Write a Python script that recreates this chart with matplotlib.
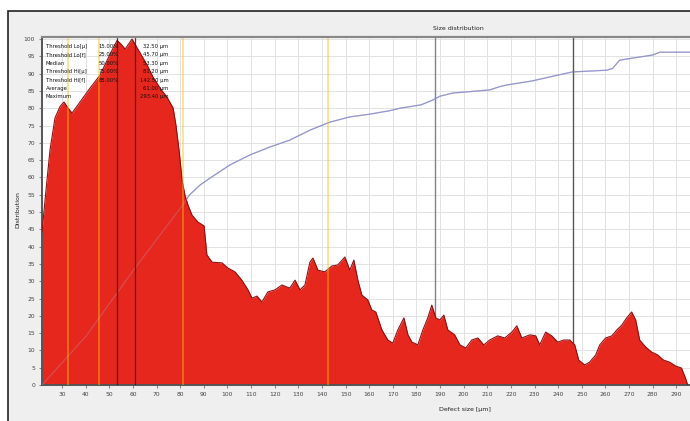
import matplotlib.pyplot as plt
from matplotlib.patches import Rectangle

# size distribution (defect size in um, distribution in %)
size_um = [21.5, 23.2, 24.9, 27.0, 29.2, 30.8, 32.5, 34.2, 37.6, 41.8, 46.1, 49.5,
           51.6, 53.3, 55.0, 56.7, 58.4, 59.6, 61.3, 63.0, 66.0, 68.5, 71.5, 74.4,
           77.0, 78.2, 79.5, 80.8, 82.0, 83.3, 85.0, 87.5, 90.1, 91.3, 93.5, 97.7,
           100.2, 103.2, 106.1, 108.7, 110.4, 112.5, 114.6, 117.1, 120.1, 123.1,
           126.4, 128.6, 130.7, 132.8, 134.9, 136.2, 138.3, 141.2, 144.2, 146.7,
           149.7, 151.8, 153.5, 155.2, 156.9, 159.4, 161.1, 162.8, 165.4, 167.9,
           170.0, 172.1, 174.7, 176.4, 178.1, 180.6, 182.7, 184.8, 186.5, 188.2,
           189.9, 191.6, 193.3, 196.2, 198.4, 200.9, 203.4, 206.0, 208.5, 211.0,
           214.4, 217.4, 220.4, 222.5, 224.6, 228.0, 230.5, 232.2, 234.7, 237.3,
           239.8, 242.3, 244.9, 247.0, 248.7, 251.2, 253.3, 255.9, 257.6, 260.1,
           262.7, 264.8, 266.9, 269.0, 271.1, 272.8, 274.5, 277.0, 279.6, 282.1,
           284.6, 287.2, 289.7, 292.2, 293.9, 294.8]
distribution = [44.2, 56.4, 68.0, 77.2, 80.6, 81.8, 80.1, 78.6, 81.8, 85.8, 89.6, 94.5,
                97.4, 99.6, 98.5, 97.1, 98.8, 100.0, 98.0, 96.0, 92.5, 89.0, 85.8, 83.2,
                80.1, 75.1, 67.9, 59.2, 54.9, 52.0, 49.1, 47.1, 46.0, 37.6, 35.5, 35.3,
                33.8, 32.7, 30.3, 27.5, 25.1, 25.7, 24.0, 26.9, 27.5, 28.9,
                28.0, 30.3, 27.5, 28.9, 35.5, 36.7, 33.2, 32.7, 34.4, 34.7,
                37.0, 33.2, 36.1, 30.3, 26.0, 24.6, 21.7, 21.1, 15.9, 13.0,
                12.1, 15.9, 19.4, 14.5, 12.4, 11.6, 15.9, 19.4, 23.1, 19.4,
                18.8, 20.2, 15.9, 14.5, 11.6, 10.7, 13.0, 13.6, 11.6, 13.0,
                14.2, 13.6, 15.3, 17.1, 13.6, 14.5, 14.2, 11.6, 15.3, 14.2,
                12.4, 13.0, 13.0, 11.6, 7.2, 5.8, 6.6, 8.7, 11.6, 13.6,
                14.2, 15.9, 17.3, 19.4, 21.1, 18.8, 13.0, 11.0, 9.5, 8.7,
                7.2, 6.6, 5.5, 4.9, 2.0, 0.0]

# cumulative curve
cum_um = [21.5, 40, 60, 81, 84, 88.4, 92.6, 101, 109.5, 118, 126.4, 135, 143.4,
          151.8, 160.3, 168.7, 173, 182, 187, 190, 195.4, 211, 215, 218, 229,
          240, 246, 260.5, 263, 266, 280, 283, 295.8]
cum_pct = [0, 14, 33, 52, 55, 57.8, 59.8, 63.6, 66.5, 68.8, 70.8, 73.7, 76,
           77.5, 78.3, 79.3, 80, 81, 82.4, 83.5, 84.4, 85.3, 86.2, 86.7, 87.9,
           89.6, 90.5, 91, 91.5, 93.9, 95.4, 96.2, 96.2]

# statistics table
stat_names = ["Threshold Lo[\u00b5]", "Threshold Lo[f]", "Median", "Threshold Hi[\u00b5]",
              "Threshold Hi[f]", "Average", "Maximum"]
stat_pct = ["15.00%", "25.00%", "50.00%", "75.00%", "85.00%", "", ""]
stat_um = [32.50, 45.70, 53.30, 81.20, 142.50, 61.00, 293.40]

threshold_lines = [32.5, 45.7, 81.2, 142.5]
center_lines = [53.3, 61.0]
marker_lines = [(187.8, "#7c7fa6"), (246.2, "#555555")]

x_ticks = list(range(30, 300, 10))
y_ticks = list(range(0, 105, 5))

fig = plt.figure(figsize=(6.9, 4.21), dpi=100, facecolor="white")
frame = Rectangle((8 / 690, -0.1), 1.0, 1 - 11 / 421 + 0.1,
                  transform=fig.transFigure, facecolor="#efefef",
                  edgecolor="#222222", linewidth=1.2, zorder=-10)
fig.patches.append(frame)

ax = fig.add_axes([42 / 690, 36 / 421, 648 / 690, 348 / 421])
ax.set_zorder(1)
ax.set_facecolor("white")

ax.plot(cum_um, cum_pct, color="#8a8cc8", lw=0.9, zorder=1)
ax.fill_between(size_um, distribution, 0, color="#e6271d", zorder=2, linewidth=0)
ax.plot(size_um, distribution, color="#8e1010", lw=0.8, zorder=3)
ax.plot(cum_um, cum_pct, color="#b0b0d8", lw=0.8, alpha=0.3, zorder=3)

for xv in threshold_lines:
    ax.axvline(xv, color="#f7c010", lw=1.1, alpha=0.55, zorder=4)
for xv in center_lines:
    ax.axvline(xv, color="#3a0a0a", lw=0.9, alpha=0.8, zorder=4)
for xv, c in marker_lines:
    ax.axvline(xv, color=c, lw=1.0, zorder=1.5)

ax.set_xlim(21.5, 295.8)
ax.set_ylim(0, 100.6)
ax.set_xticks(x_ticks)
ax.set_yticks(y_ticks)
ax.grid(True, color="#e2e2e2", lw=0.7, zorder=0)
ax.set_axisbelow(True)
ax.tick_params(labelsize=4.3, labelcolor="#444444", length=2, color="#888888", pad=3)

for side in ["top", "right"]:
    ax.spines[side].set_visible(False)
ax.spines["left"].set_color("#555555")
ax.spines["left"].set_linewidth(1.4)
ax.spines["bottom"].set_color("#555555")
ax.spines["bottom"].set_linewidth(1.4)
ax.axhline(100.6, color="#888888", lw=1.6, clip_on=False, zorder=5)

# statistics table in the upper left corner
for i, name in enumerate(stat_names):
    yy = 0.98 - i * 0.0242
    ax.text(0.006, yy, name, transform=ax.transAxes, fontsize=3.8, color="#111111",
            va="top", ha="left", zorder=6)
    ax.text(0.118, yy, stat_pct[i], transform=ax.transAxes, fontsize=3.8, color="#111111",
            va="top", ha="right", zorder=6)
    ax.text(0.195, yy, f"{stat_um[i]:.2f} \u00b5m", transform=ax.transAxes, fontsize=3.8,
            color="#111111", va="top", ha="right", zorder=6)

fig.text(458 / 690, 1 - 28 / 421, "Size distribution", ha="center", va="center",
         fontsize=4.5, color="#222222")
fig.text(465 / 690, 1 - 410 / 421, "Defect size [\u00b5m]", ha="center", va="center",
         fontsize=4.5, color="#222222")
fig.text(18 / 690, 1 - 210 / 421, "Distribution", ha="center", va="center",
         rotation=90, fontsize=4.5, color="#222222")

fig.savefig("out.png", dpi=100, facecolor=fig.get_facecolor())
